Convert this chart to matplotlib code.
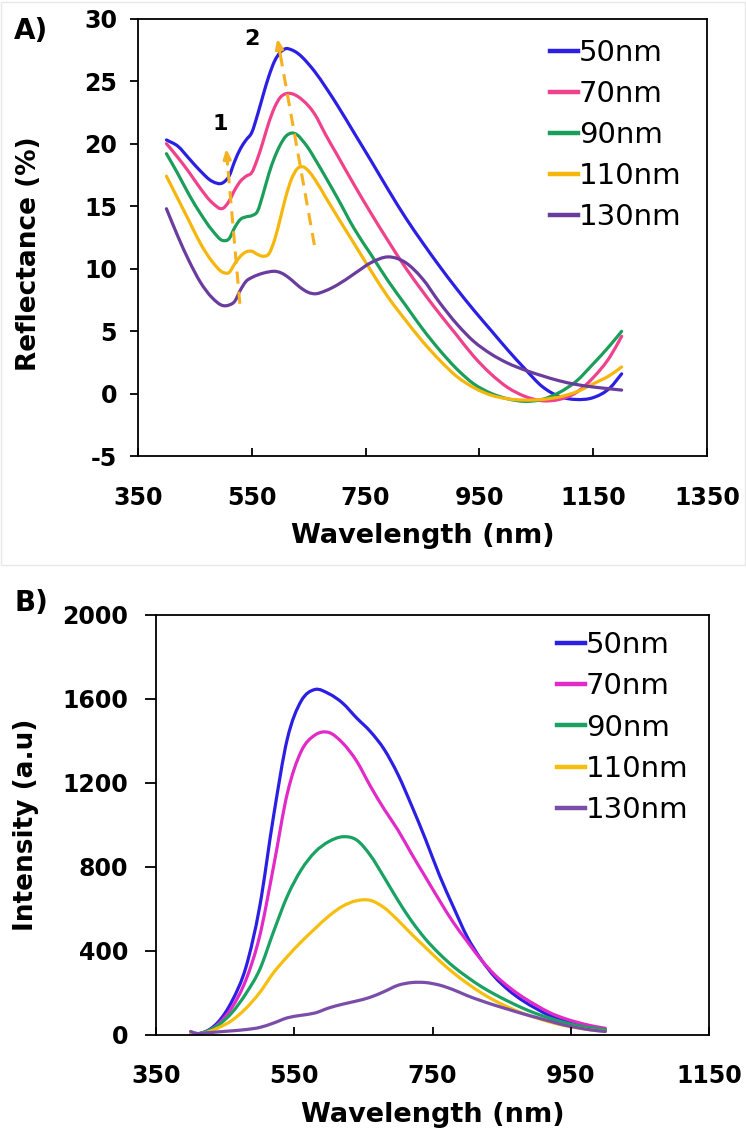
import numpy as np
import matplotlib

matplotlib.use("Agg")
import matplotlib.pyplot as plt
from matplotlib.lines import Line2D
from matplotlib.path import Path
from matplotlib.patches import PathPatch, Rectangle

plt.rcParams["font.family"] = ["DejaVu Sans"]
plt.rcParams["axes.unicode_minus"] = False

SIZES = ["50nm", "70nm", "90nm", "110nm", "130nm"]

# ── A) reflectance spectra (%) ──
wl_refl = [400, 420, 440, 460, 480, 500, 510, 520, 530, 540, 550, 560, 570, 580,
           590, 600, 610, 620, 630, 640, 650, 660, 680, 700, 730, 760, 790, 820,
           850, 880, 910, 940, 970, 1000, 1030, 1060, 1090, 1120, 1150, 1180, 1200]
refl_50 = [20.3, 19.8, 18.8, 17.8, 17.0, 16.9, 17.4, 18.6, 19.6, 20.3, 20.9, 22.3,
           23.9, 25.4, 26.6, 27.3, 27.6, 27.5, 27.25, 26.85, 26.35, 25.8, 24.5, 23.1,
           20.85, 18.6, 16.3, 14.1, 12.1, 10.2, 8.4, 6.7, 5.1, 3.5, 2.0, 0.6, -0.2,
           -0.45, -0.3, 0.5, 1.6]
refl_70 = [20.0, 18.9, 17.7, 16.4, 15.3, 14.85, 15.4, 16.3, 17.0, 17.4, 17.7, 18.8,
           20.2, 21.7, 22.9, 23.7, 24.0, 24.0, 23.8, 23.45, 23.0, 22.4, 20.7, 19.1,
           16.7, 14.4, 12.2, 10.1, 8.2, 6.4, 4.7, 3.0, 1.6, 0.5, -0.2, -0.55, -0.45,
           0.1, 1.3, 3.0, 4.6]
refl_90 = [19.2, 17.6, 15.9, 14.4, 13.1, 12.25, 12.4, 13.3, 13.95, 14.15, 14.25, 14.6,
           16.0, 17.6, 18.9, 19.9, 20.6, 20.85, 20.7, 20.2, 19.6, 18.85, 17.3, 15.7,
           13.2, 11.1, 9.0, 7.1, 5.2, 3.5, 2.0, 0.8, 0.05, -0.4, -0.6, -0.45, 0.1,
           1.0, 2.4, 3.9, 5.0]
refl_110 = [17.4, 15.6, 13.8, 12.0, 10.6, 9.7, 9.7, 10.4, 11.0, 11.35, 11.4, 11.15,
            11.0, 11.2, 12.3, 14.0, 15.8, 17.2, 18.0, 18.15, 17.8, 17.2, 15.7, 14.2,
            12.0, 9.8, 7.7, 5.9, 4.2, 2.7, 1.4, 0.5, -0.1, -0.4, -0.5, -0.45, -0.25,
            0.15, 0.8, 1.5, 2.15]
refl_130 = [14.8, 12.6, 10.6, 8.9, 7.7, 7.05, 7.1, 7.4, 8.3, 9.0, 9.3, 9.5, 9.65, 9.75,
            9.8, 9.7, 9.45, 9.1, 8.7, 8.35, 8.1, 8.0, 8.25, 8.7, 9.6, 10.5, 10.95,
            10.5, 9.2, 7.3, 5.6, 4.2, 3.2, 2.45, 1.9, 1.45, 1.05, 0.75, 0.55, 0.4, 0.3]

# peak-shift guide arrows: (tail, head) in data units
arrow_1 = [(529, 7.2), (505, 19.6)]
arrow_2 = [(660, 11.9), (595, 28.4)]

# ── B) emission spectra (a.u.) ──
wl_pl = [400, 410, 420, 430, 440, 460, 480, 500, 520, 540, 560, 580, 600, 620, 640,
         660, 680, 700, 720, 740, 760, 780, 800, 820, 840, 860, 880, 900, 920, 940,
         960, 980, 1000]
pl_50 = [0, 3, 12, 30, 60, 160, 320, 610, 1040, 1410, 1590, 1645, 1625, 1580, 1510,
         1445, 1360, 1240, 1090, 930, 760, 610, 467, 360, 275, 212, 163, 124, 90, 65,
         45, 32, 22]
pl_70 = [0, 2, 10, 25, 50, 130, 260, 470, 800, 1150, 1350, 1428, 1440, 1390, 1305,
         1185, 1075, 975, 860, 750, 640, 535, 445, 358, 285, 228, 180, 140, 104, 78,
         58, 42, 30]
pl_90 = [0, 3, 12, 25, 45, 105, 195, 310, 490, 660, 785, 870, 920, 943, 928, 855, 750,
         640, 540, 455, 385, 325, 275, 230, 192, 158, 127, 100, 78, 58, 43, 32, 24]
pl_110 = [0, 2, 8, 18, 32, 68, 125, 200, 295, 372, 442, 505, 565, 612, 638, 640, 605,
          545, 478, 415, 352, 295, 245, 200, 162, 130, 102, 80, 60, 44, 32, 22, 15]
pl_130 = [15, 5, 8, 10, 13, 18, 24, 34, 55, 80, 92, 103, 127, 145, 160, 178, 205, 235,
          248, 248, 236, 214, 186, 162, 140, 120, 100, 82, 64, 46, 33, 22, 15]

COLORS_A = ["#2b1fe3", "#f0428c", "#1a9e5a", "#f6b60c", "#6a3c9e"]
COLORS_B = ["#2b1fe3", "#e22ac8", "#1aa262", "#f6bf10", "#7a4ea8"]
ARROW_COLOR = "#f5b120"


def smooth_path(x, y):
    """Cubic Hermite curve through the points, as Bezier segments."""
    x = np.asarray(x, float)
    y = np.asarray(y, float)
    m = np.gradient(y, x)
    verts = [(x[0], y[0])]
    codes = [Path.MOVETO]
    for i in range(len(x) - 1):
        h = (x[i + 1] - x[i]) / 3
        verts += [(x[i] + h, y[i] + m[i] * h),
                  (x[i + 1] - h, y[i + 1] - m[i + 1] * h),
                  (x[i + 1], y[i + 1])]
        codes += [Path.CURVE4] * 3
    return Path(verts, codes)


def draw_series(ax, x, series, colors, lw=2.3):
    handles = []
    for y, c in zip(series, colors):
        ax.add_patch(PathPatch(smooth_path(x, y), fill=False, edgecolor=c,
                               lw=lw, capstyle="round", joinstyle="round"))
        handles.append(Line2D([], [], color=c, lw=3.2))
    return handles


def style_axes(ax, ypad, ylen):
    for s in ax.spines.values():
        s.set_linewidth(1.3)
    ax.tick_params(axis="y", direction="out", length=ylen, width=1.3, pad=ypad,
                   labelsize=17)
    ax.tick_params(axis="x", direction="in", length=6, width=1.3, pad=21,
                   labelsize=17)
    for lab in ax.get_xticklabels() + ax.get_yticklabels():
        lab.set_fontweight("bold")


def add_legend(ax, handles, anchor):
    ax.legend(handles, SIZES, loc="upper left", bbox_to_anchor=anchor, frameon=False,
              fontsize=21, handlelength=0.95, handletextpad=0.05, labelspacing=0.45,
              borderpad=0, borderaxespad=0)


fig = plt.figure(figsize=(7.46, 11.36), dpi=100)

# faint frame around the top panel
fig.add_artist(Rectangle((0.001, 1 - 565 / 1136), 0.997, 565 / 1136 - 0.002,
                         transform=fig.transFigure, fill=False, ec="#e8e8e8", lw=1))

# ── Panel A ──
axA = fig.add_axes([138 / 746, 1 - 456.4 / 1136, 569 / 746, 437.8 / 1136])
hA = draw_series(axA, wl_refl, [refl_50, refl_70, refl_90, refl_110, refl_130], COLORS_A)
axA.set_xlim(350, 1350)
axA.set_ylim(-5, 30)
axA.set_xticks(np.arange(350, 1351, 200))
axA.set_yticks(np.arange(-5, 31, 5))
style_axes(axA, ypad=9, ylen=6)

for (x0, y0), (x1, y1) in (arrow_1, arrow_2):
    # dashed shaft, then a small solid head at the tip
    fx = x0 + (x1 - x0) * 0.9
    fy = y0 + (y1 - y0) * 0.9
    axA.plot([x0, fx], [y0, fy], color=ARROW_COLOR, lw=2.2, ls=(0, (4, 2.6)))
    axA.annotate("", xy=(x1, y1), xytext=(fx, fy),
                 arrowprops=dict(arrowstyle="-|>,head_length=0.55,head_width=0.22",
                                 color=ARROW_COLOR, lw=2.2, shrinkA=0, shrinkB=0))
axA.text(494, 21.6, "1", fontsize=16, fontweight="bold", ha="center", va="center")
axA.text(550, 28.4, "2", fontsize=16, fontweight="bold", ha="center", va="center")

axA.set_xlabel("Wavelength (nm)", fontsize=19.5, fontweight="bold")
axA.set_ylabel("Reflectance (%)", fontsize=19, fontweight="bold")
axA.xaxis.set_label_coords(0.5, -0.182)
axA.xaxis.label.set_va("center")
axA.yaxis.set_label_coords(-0.192, 0.462)
axA.yaxis.label.set_va("center")
add_legend(axA, hA, (0.724, 0.954))

# ── Panel B ──
axB = fig.add_axes([156 / 746, 1 - 1034.6 / 1136, 553 / 746, 419.6 / 1136])
hB = draw_series(axB, wl_pl, [pl_50, pl_70, pl_90, pl_110, pl_130], COLORS_B)
axB.set_xlim(350, 1150)
axB.set_ylim(0, 2000)
axB.set_xticks(np.arange(350, 1151, 200))
axB.set_yticks(np.arange(0, 2001, 400))
style_axes(axB, ypad=12, ylen=8)

axB.set_xlabel("Wavelength (nm)", fontsize=19.5, fontweight="bold")
axB.set_ylabel("Intensity (a.u)", fontsize=19, fontweight="bold")
axB.xaxis.set_label_coords(0.5, -0.1916)
axB.xaxis.label.set_va("center")
axB.yaxis.set_label_coords(-0.235, 0.5)
axB.yaxis.label.set_va("center")
add_legend(axB, hB, (0.725, 0.961))

fig.text(31 / 746, 1 - 31 / 1136, "A)", fontsize=20, fontweight="bold",
         ha="center", va="center")
fig.text(31 / 746, 1 - 603 / 1136, "B)", fontsize=20, fontweight="bold",
         ha="center", va="center")

fig.savefig("out.png", dpi=100)
